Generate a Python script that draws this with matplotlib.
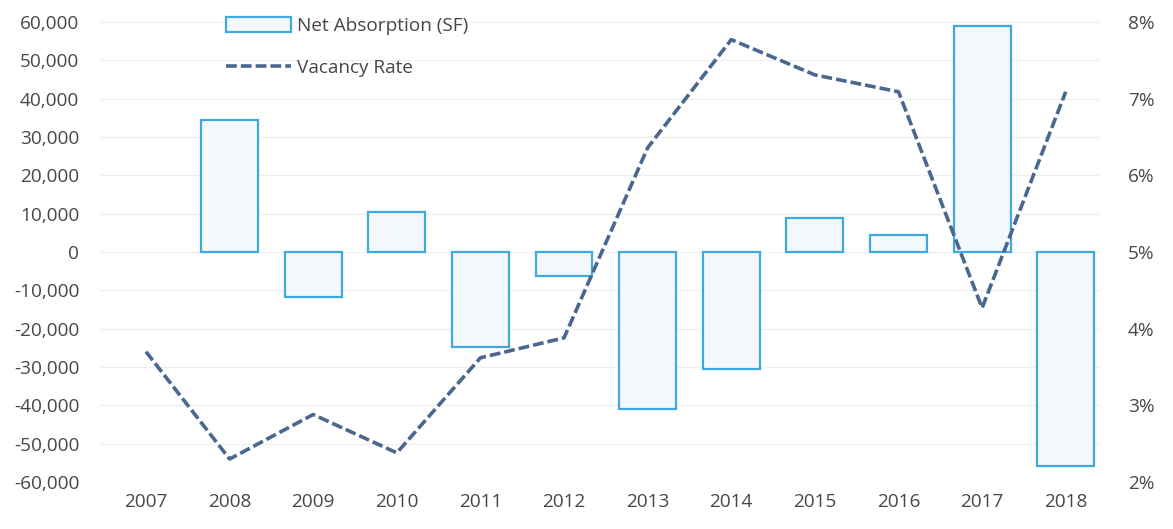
import matplotlib
matplotlib.use("Agg")
import matplotlib.pyplot as plt
from matplotlib.ticker import FuncFormatter, MultipleLocator

years = ["2007", "2008", "2009", "2010", "2011", "2012", "2013", "2014", "2015", "2016", "2017", "2018"]
net_absorption = [float("nan"), 34500, -11700, 10400, -24800, -6300, -41000, -30500, 8900, 4400, 59000, -55900]
vacancy_rate = [3.70, 2.30, 2.88, 2.38, 3.62, 3.88, 6.36, 7.77, 7.31, 7.09, 4.27, 7.09]

plt.rcParams['font.family'] = ['Open Sans', 'DejaVu Sans']
text_color = "#474747"
fs = 13.7

W, H = 1173, 529
fig = plt.figure(figsize=(W / 100, H / 100), dpi=100)
left, right, top, bottom = 100, 1100, 22, 482
ax = fig.add_axes([left / W, 1 - bottom / H, (right - left) / W, (bottom - top) / H])

x = list(range(len(years)))
bars = ax.bar(x, net_absorption, width=0.68, facecolor="#f4f8fc", edgecolor="#3fa9de",
              linewidth=1.6, label="Net Absorption (SF)", zorder=2)
ax.set_xlim(-0.55, 11.41)
ax.set_ylim(-60000, 60000)
ax.yaxis.set_major_locator(MultipleLocator(10000))
ax.yaxis.set_major_formatter(FuncFormatter(lambda v, p: f"{int(v):,}"))
ax.set_xticks(x)
ax.set_xticklabels(years)
ax.grid(axis="y", color="#f0f0f0", linewidth=1, zorder=0)
for s in ax.spines.values():
    s.set_visible(False)
ax.tick_params(axis="both", length=0, labelsize=fs, colors=text_color)
ax.tick_params(axis="x", pad=8)
ax.tick_params(axis="y", pad=15)

ax2 = ax.twinx()
line, = ax2.plot(x, vacancy_rate, color="#4a6790", linewidth=2.6, linestyle=(0, (3, 1.1)),
                 label="Vacancy Rate", zorder=3)
ax2.set_ylim(2, 8)
ax2.yaxis.set_major_locator(MultipleLocator(1))
ax2.yaxis.set_major_formatter(FuncFormatter(lambda v, p: f"{int(round(v))}%"))
for s in ax2.spines.values():
    s.set_visible(False)
ax2.tick_params(axis="y", length=0, labelsize=fs, colors=text_color, pad=20)

leg = fig.legend([bars, line], ["Net Absorption (SF)", "Vacancy Rate"],
                 loc="upper left", bbox_to_anchor=(209 / W, 1 - 0 / H), frameon=False,
                 fontsize=fs, handlelength=3.4, handleheight=0.8, handletextpad=0.35,
                 labelspacing=1.25)
for t in leg.get_texts():
    t.set_color(text_color)

fig.savefig("out.png", dpi=100, facecolor="white")
